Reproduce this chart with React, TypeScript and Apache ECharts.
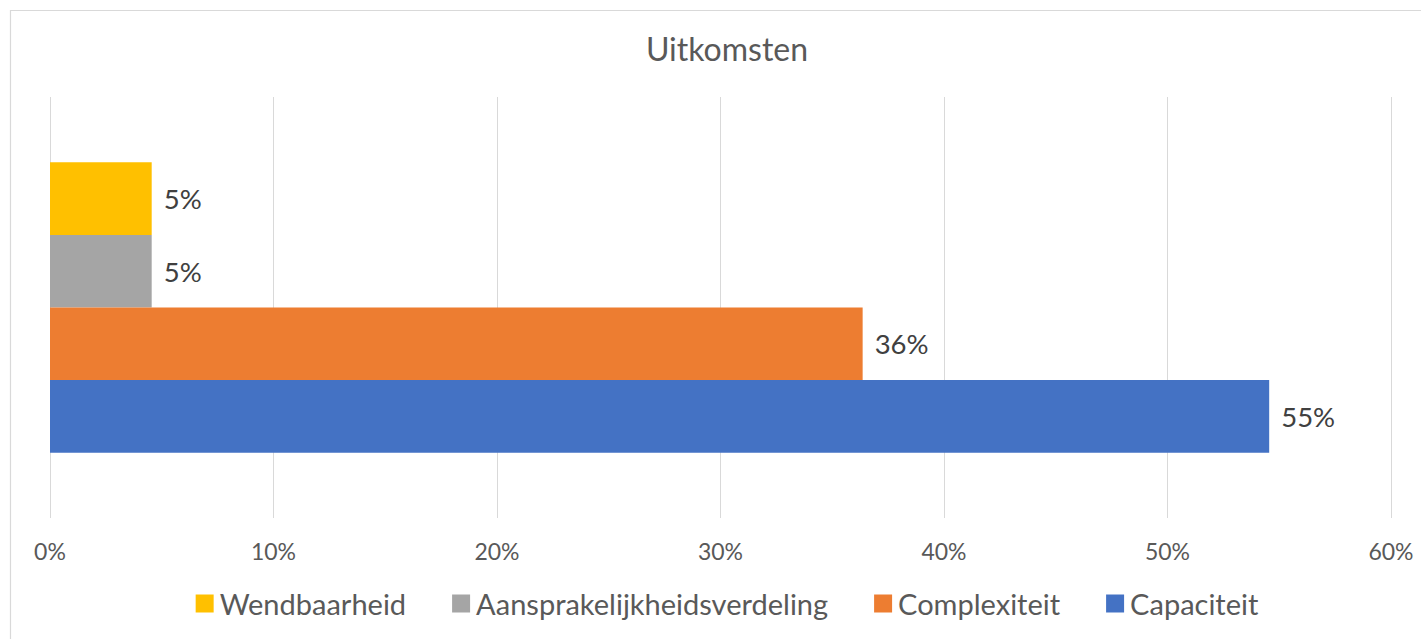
import React, { useEffect, useRef } from "react";
import * as echarts from "echarts";

const chartTitle = "Uitkomsten";
const categories = ["Uitkomsten"];
const seriesNames = ["Wendbaarheid", "Aansprakelijkheidsverdeling", "Complexiteit", "Capaciteit"];
const seriesValues = [4.55, 4.55, 36.36, 54.55];
const seriesColors = ["#FFC000", "#A5A5A5", "#ED7D31", "#4472C4"];
const xTicks = [0, 10, 20, 30, 40, 50, 60];

const FONT = "Lato";
const CHART_W = 1454;

export default function App() {
  const ref = useRef<HTMLDivElement>(null);
  useEffect(() => {
    if (!ref.current) return;
    const chart = echarts.init(ref.current, undefined, { renderer: "svg" });
    const option: any = {
      animation: false,
      backgroundColor: "#ffffff",
      textStyle: { fontFamily: FONT },
      title: {
        text: chartTitle,
        left: "center",
        top: 27,
        textStyle: { fontFamily: FONT, fontSize: 32, fontWeight: "normal", color: "#595959" },
      },
      graphic: [
        {
          type: "rect",
          shape: { x: 10.5, y: 10.5, width: 1500, height: 700 },
          style: { fill: "none", stroke: "#D9D9D9", lineWidth: 1.2 },
          silent: true,
        },
      ],
      legend: {
        data: seriesNames,
        bottom: 16,
        left: "center",
        icon: "rect",
        itemWidth: 18,
        itemHeight: 18,
        itemGap: 46,
        textStyle: { fontFamily: FONT, fontSize: 29, color: "#595959", padding: [0, 0, 0, 1] },
      },
      grid: { left: 50, right: CHART_W - 1391, top: 97, bottom: 121, containLabel: false },
      xAxis: {
        type: "value",
        min: xTicks[0],
        max: xTicks[xTicks.length - 1],
        interval: xTicks[1] - xTicks[0],
        axisLine: { show: false },
        axisTick: { show: false },
        splitLine: { show: true, lineStyle: { color: "#D9D9D9", width: 1 } },
        axisLabel: {
          formatter: "{value}%",
          fontFamily: FONT,
          fontSize: 23,
          color: "#595959",
          margin: 21,
        },
      },
      yAxis: {
        type: "category",
        data: categories,
        axisLine: { show: false },
        axisTick: { show: false },
        axisLabel: { show: false },
        splitLine: { show: false },
      },
      series: seriesNames.map((name, i) => ({
        name,
        type: "bar",
        data: [seriesValues[i]],
        barGap: "0%",
        barCategoryGap: "31%",
        itemStyle: { color: seriesColors[i] },
        label: {
          show: true,
          position: "right",
          distance: 12,
          formatter: (p: any) => Math.round(p.value) + "%",
          fontFamily: FONT,
          fontSize: 27.5,
          color: "#404040",
        },
      })),
    };
    chart.setOption(option);
    return () => chart.dispose();
  }, []);
  return (
    <div
      style={{
        position: "absolute",
        left: 0,
        top: 0,
        width: 1421,
        height: 639,
        overflow: "hidden",
        background: "#fff",
      }}
    >
      <div ref={ref} style={{ width: CHART_W, height: 639 }} />
    </div>
  );
}
